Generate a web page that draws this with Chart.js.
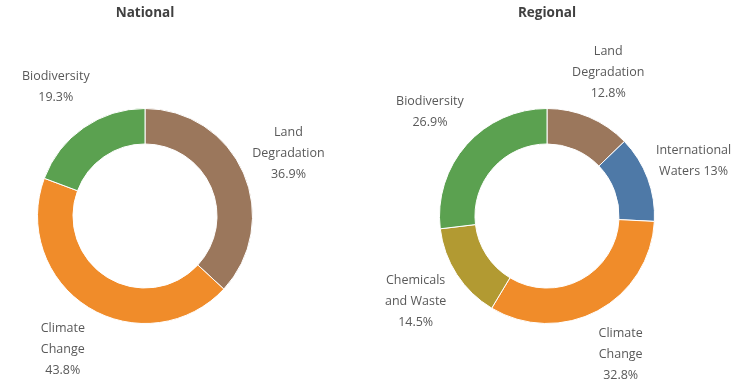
<!DOCTYPE html>
<html>
<head>
<meta charset="utf-8">
<script src="https://cdn.jsdelivr.net/npm/chart.js@4"></script>
<style>
  html, body { margin: 0; padding: 0; background: #fff; }
  #wrap { position: relative; width: 742px; height: 384px; }
  .box { position: absolute; top: 0; width: 371px; height: 384px; }
  #box_nat { left: 0; }
  #box_reg { left: 371px; }
</style>
</head>
<body>
<div id="wrap">
  <div class="box" id="box_nat"><canvas id="chart_nat"></canvas></div>
  <div class="box" id="box_reg"><canvas id="chart_reg"></canvas></div>
</div>
<script>
// National
const nat_labels = [["Land", "Degradation"], ["Climate", "Change"], ["Biodiversity"]]
const nat_values = [36.9, 43.8, 19.3]
const nat_colors = ["#9b775c", "#f08c2a", "#5ba150"]

// Regional
const reg_labels = [["Land", "Degradation"], ["International", "Waters"], ["Climate", "Change"], ["Chemicals", "and Waste"], ["Biodiversity"]]
const reg_values = [12.8, 13, 32.8, 14.5, 26.9]
const reg_colors = ["#9b775c", "#4e79a7", "#f08c2a", "#b29a32", "#5ba150"]

/* eslint-disable */
// draws title and the labels out along each slice's middle angle
const label_plugin = {
    id: "outLabels",
    afterDraw(chart, args, opts){
        const ctx = chart.ctx
        const meta = chart.getDatasetMeta(0)
        const data = chart.data.datasets[0].data
        ctx.save()
        ctx.textAlign = "center"
        ctx.textBaseline = "middle"

        // title
        const first = meta.data[0]
        ctx.fillStyle = "#404040"
        ctx.font = "bold 13.5px 'Open Sans'"
        ctx.fillText(opts.title, first.x, 13)

        ctx.fillStyle = "#595959"
        ctx.font = "12.5px 'Open Sans'"
        const line_h = 21
        meta.data.forEach((arc, i) => {
            const mid = (arc.startAngle + arc.endAngle) / 2
            const r = arc.outerRadius + 49
            const cx = arc.x + Math.cos(mid) * r
            const cy = arc.y + Math.sin(mid) * r
            let lines = chart.data.labels[i].slice()
            const pct = data[i] + "%"
            if(opts.inline && opts.inline.includes(i))
                lines[lines.length - 1] += " " + pct
            else
                lines.push(pct)
            const y0 = cy - (lines.length - 1) * line_h / 2
            lines.forEach((t, k) => ctx.fillText(t, cx, y0 + k * line_h))
        })
        ctx.restore()
    }
}

function make_donut(id, labels, values, colors, title, pad, inline){
    const ctx = document.getElementById(id).getContext('2d')
    return new Chart(ctx, {
        type: 'doughnut',
        data: {
            labels: labels,
            datasets: [{
                data: values,
                backgroundColor: colors,
                borderColor: "#ffffff",
                borderWidth: 1
            }]
        },
        options: {
            responsive: true,
            maintainAspectRatio: false,
            animation: false,
            cutout: "67%",
            layout: { padding: pad },
            plugins: {
                legend: { display: false },
                tooltip: { enabled: false },
                outLabels: { title: title, inline: inline }
            }
        },
        plugins: [label_plugin]
    })
}

make_donut("chart_nat", nat_labels, nat_values, nat_colors, "National",
    { left: 37, right: 118, top: 108, bottom: 60 }, [])
make_donut("chart_reg", reg_labels, reg_values, reg_colors, "Regional",
    { left: 68, right: 87, top: 108, bottom: 60 }, [1])
</script>
</body>
</html>
